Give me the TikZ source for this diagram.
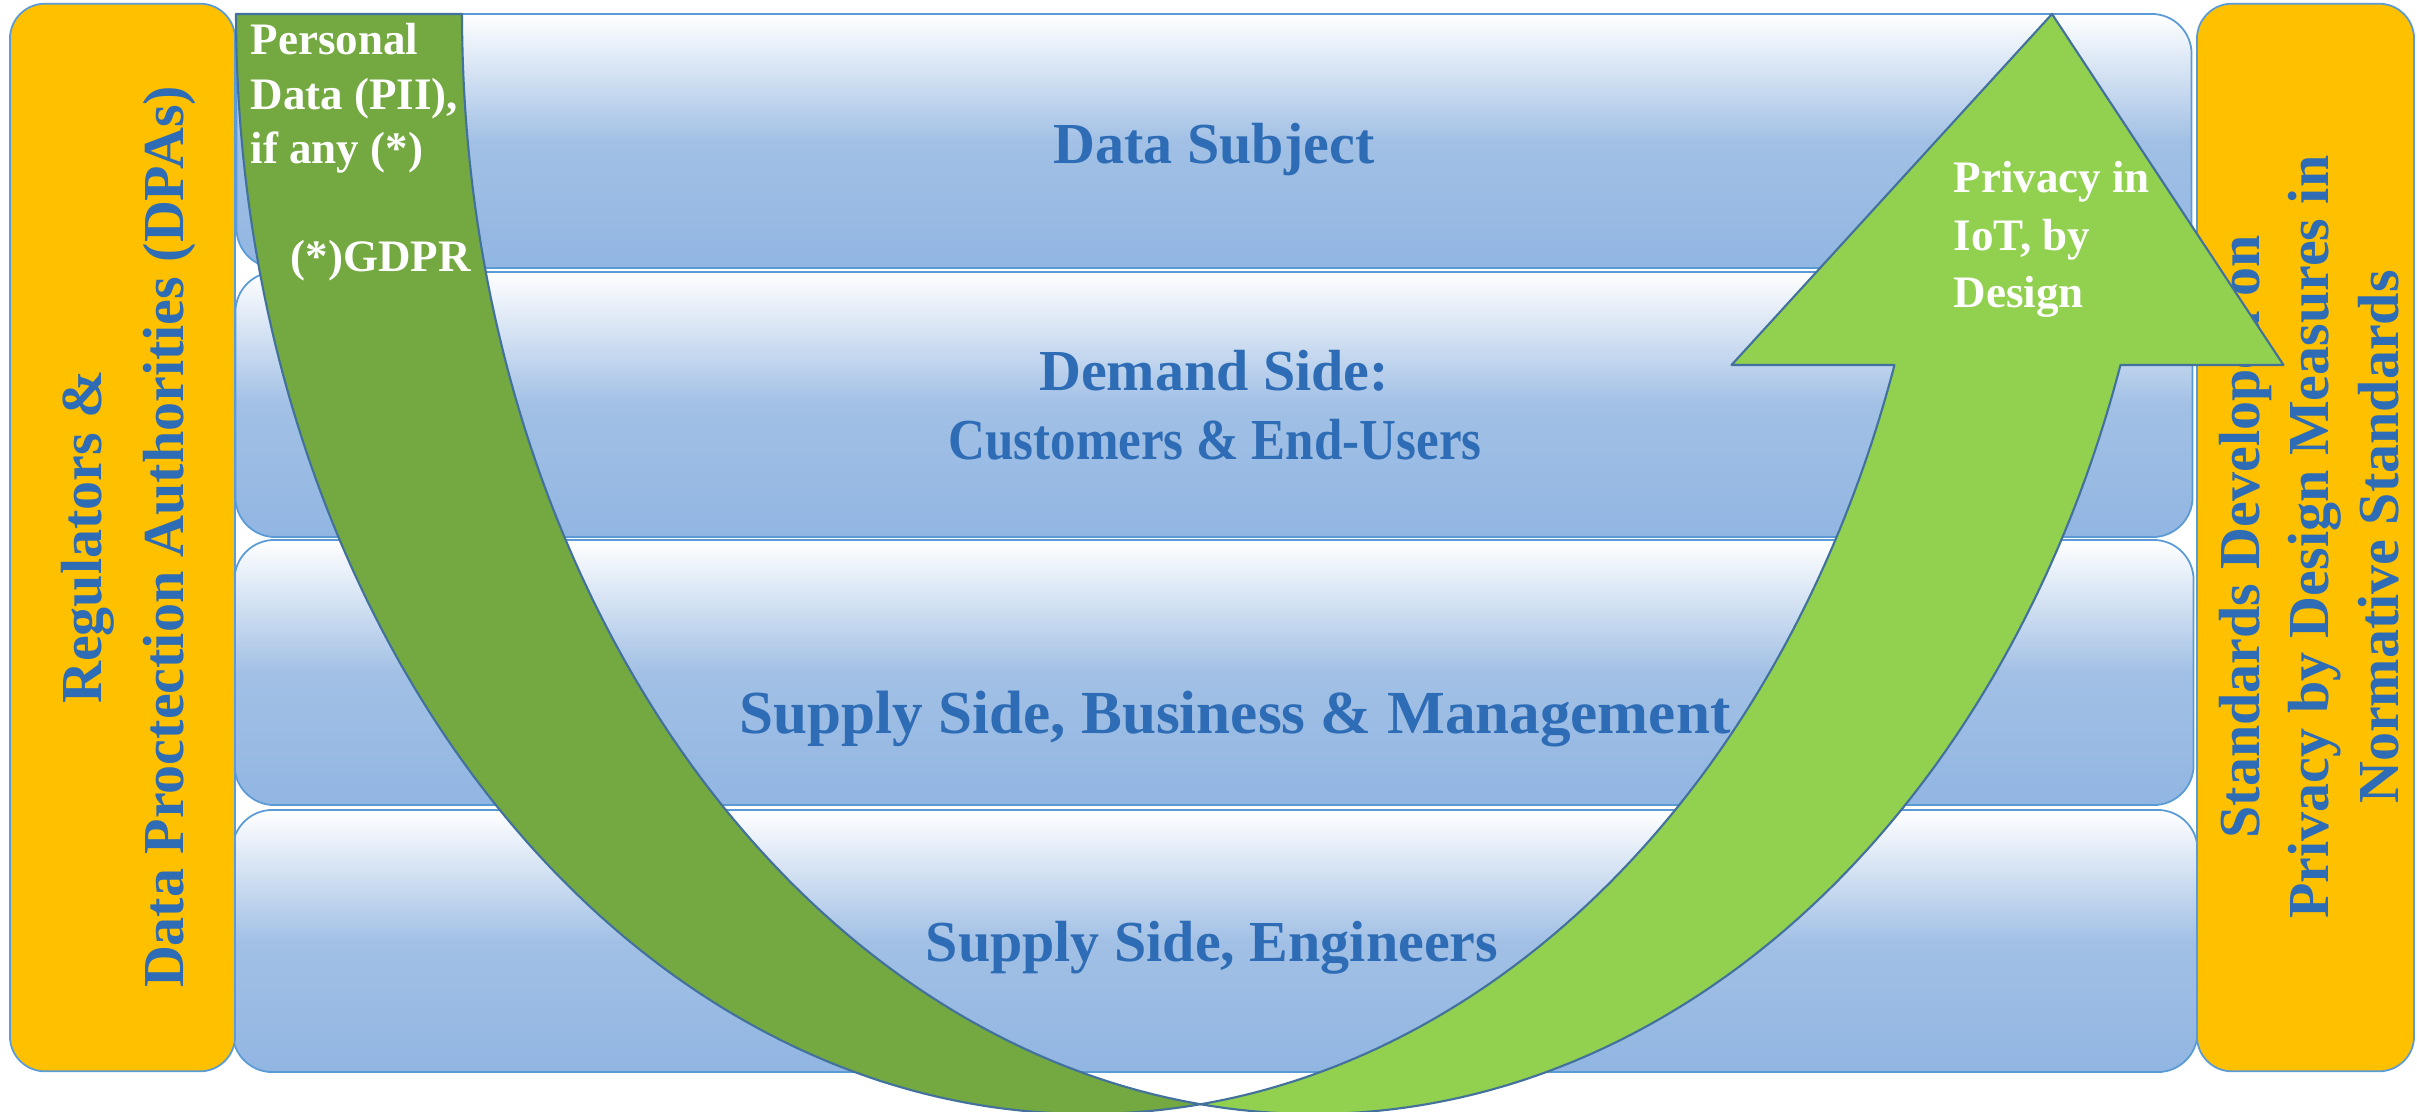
\documentclass[tikz,border=0pt]{standalone}
\usepackage{fontspec}
\setmainfont{Liberation Serif}
\definecolor{boxline}{RGB}{91,155,213}
\definecolor{boxmid}{RGB}{162,192,229}
\definecolor{boxbot}{RGB}{145,182,226}
\definecolor{txtblue}{RGB}{46,109,181}
\definecolor{panelyellow}{RGB}{255,192,0}
\definecolor{darkgreen}{RGB}{116,168,64}
\definecolor{lightgreen}{RGB}{146,208,80}
\definecolor{arrowline}{RGB}{65,113,156}
\tikzset{
  layerbox/.style={draw=boxline, line width=0.5pt, rounded corners=0.4cm, top color=white, bottom color=boxbot, middle color=boxmid, inner sep=0pt},
  sidepanel/.style={draw=boxline, line width=0.5pt, rounded corners=0.35cm, fill=panelyellow, inner sep=0pt},
  layertext/.style={font=\fontsize{16.5}{19.8}\selectfont\bfseries, text=txtblue, inner sep=0pt, anchor=base},
  paneltext/.style={font=\fontsize{16.5}{19.8}\selectfont\bfseries, text=txtblue, inner sep=0pt, align=center, rotate=90},
  arrowtext/.style={font=\fontsize{12.8}{15.9}\selectfont\bfseries, text=white, inner sep=0pt, anchor=base west},
  band/.style={draw=arrowline, line width=0.6pt, line join=round},
}
\begin{document}
\begin{tikzpicture}[x=0.01cm, y=-0.01cm]
\useasboundingbox (0,0) rectangle (2417,1111);
% layer boxes
\node[layerbox, minimum width=19.54cm, minimum height=2.54cm] (b1) at (1214,141) {};
\node[layerbox, minimum width=19.56cm, minimum height=2.65cm] (b2) at (1214,404.5) {};
\node[layerbox, minimum width=19.58cm, minimum height=2.65cm] (b3) at (1214,672.5) {};
\node[layerbox, minimum width=19.64cm, minimum height=2.62cm] (b4) at (1215,941) {};
\node[layertext] (t1) at (1214,163) {Data Subject};
\node[layertext] (t2a) at (1214,390) {Demand Side:};
\node[layertext, xscale=0.88] (t2b) at (1215,459) {Customers \& End-Users};
\node[layertext, font=\fontsize{17.4}{20}\selectfont\bfseries] (t3) at (1235,733) {Supply Side, Business \& Management};
\node[layertext] (t4) at (1212,961) {Supply Side, Engineers};
% side panels
\node[sidepanel, minimum width=2.25cm, minimum height=10.67cm] (lp) at (122.5,537.5) {};
\node[sidepanel, minimum width=2.17cm, minimum height=10.67cm] (rp) at (2305.5,537.5) {};
\node[paneltext, font=\fontsize{16.5}{23.3}\selectfont\bfseries] (lpt) at (129,537) {Regulators \&\\Data Proctection Authorities (DPAs)};
\node[paneltext] (rpt) at (2309,537) {Standards Developed on\\Privacy by Design Measures in\\Normative Standards};
% curved up arrow: back (dark) part
\draw[band, fill=darkgreen] (236,14)
  -- plot[domain=180:82.41, samples=150] ({1087.5+851.5*cos(\x)}, {14+1100*sin(\x)})
  -- plot[domain=97.59:180, samples=150] ({1313.5+851.5*cos(\x)}, {14+1100*sin(\x)})
  -- cycle;
% front (light) part with arrow head
\draw[band, fill=lightgreen] (2052,14) -- (2283.5,365) -- (2120.5,365)
  -- plot[domain=18.61:97.59, samples=150] ({1313.5+851.5*cos(\x)}, {14+1100*sin(\x)})
  -- plot[domain=82.41:18.61, samples=150] ({1087.5+851.5*cos(\x)}, {14+1100*sin(\x)})
  -- (1731.5,365) -- cycle;
% arrow texts
\node[arrowtext] (pd1) at (250,54) {Personal};
\node[arrowtext] (pd2) at (250,109) {Data (PII),};
\node[arrowtext] (pd3) at (250,163) {if any (*)};
\node[arrowtext] (gd) at (290,271) {(*)GDPR};
\node[arrowtext] (pv1) at (1953,192) {Privacy in};
\node[arrowtext] (pv2) at (1953,250) {IoT, by};
\node[arrowtext] (pv3) at (1953,307) {Design};
\end{tikzpicture}
\end{document}
